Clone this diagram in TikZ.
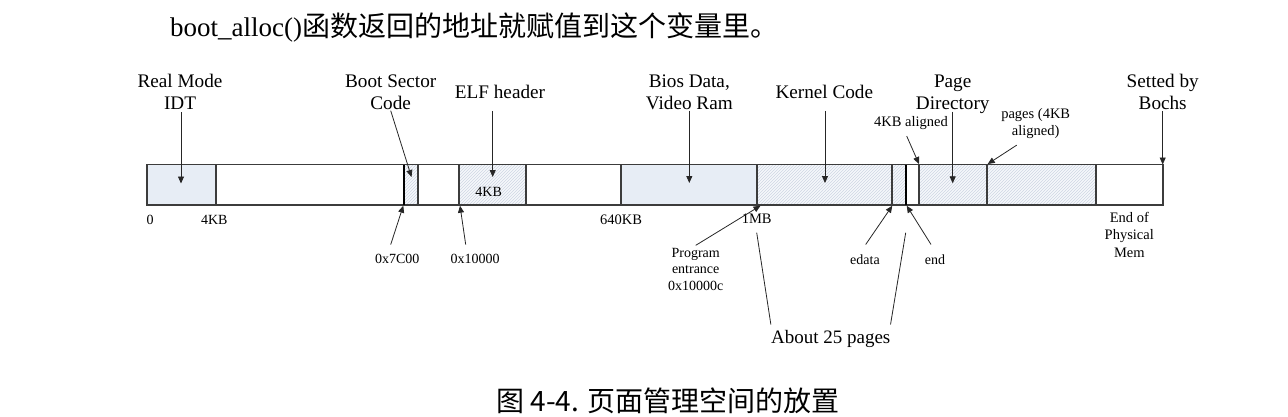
\documentclass[tikz,border=0pt]{standalone}
\usepackage{fontspec}
\setmainfont{Liberation Serif}
\newfontfamily\cjk{Noto Sans CJK SC}
\usetikzlibrary{arrows.meta,patterns}
\definecolor{dotfill}{RGB}{231,237,245}
\definecolor{hatchbg}{RGB}{246,248,251}
\definecolor{hatchline}{RGB}{206,214,227}
\definecolor{barline}{RGB}{60,60,60}
\begin{document}
\begin{tikzpicture}[x=1pt,y=-1pt,
  big/.style={font=\fontsize{19.2}{22}\selectfont, align=center, inner sep=0pt},
  small/.style={font=\fontsize{14}{16.7}\selectfont, align=center, inner sep=0pt},
  mid/.style={font=\fontsize{14.5}{17.5}\selectfont, align=center, inner sep=0pt},
  dotted region/.style={fill=dotfill},
  hatch/.style={preaction={fill=hatchbg}, pattern=north east lines, pattern color=hatchline},
  bar/.style={draw=barline, line width=1.2pt},
  strong/.style={draw=black, line width=1.5pt},
  arr/.style={draw=black!85, line width=0.8pt, -{Triangle[length=7pt,width=6pt]}},
  plain/.style={draw=black!85, line width=0.8pt}]
\useasboundingbox (0,0) rectangle (1288,416);

% header text and caption
\node[anchor=west, inner sep=0pt, font=\fontsize{27}{30}\selectfont] (head) at (170,27)
  {boot\_alloc()\cjk\fontsize{28}{30}\selectfont 函数返回的地址就赋值到这个变量里。};
\node[inner sep=0pt, font=\cjk\fontsize{28}{30}\selectfont] (cap) at (668,401)
  {图 4-4. 页面管理空间的放置};

% memory bar
\fill[dotted region] (147,164.5) rectangle (216,205);
\fill[hatch] (404,164.5) rectangle (418,205);
\fill[hatch] (459,164.5) rectangle (526,205);
\fill[dotted region] (621,164.5) rectangle (757,205);
\fill[hatch] (757,164.5) rectangle (906,205);
\fill[hatch] (919,164.5) rectangle (1096,205);
\draw[bar] (147,164.5) rectangle (1163,205);
\foreach \x in {216,418,459,526,621,757,892,919,987,1096}
  \draw[bar] (\x,164.5) -- (\x,205);
\draw[strong] (404,164.5) -- (404,205);
\draw[strong] (906,164.5) -- (906,205);

% tips
\coordinate (rmtip) at (181,183.5);
\coordinate (bstip) at (411.5,177);
\coordinate (elftip) at (492.7,177);
\coordinate (biostip) at (689.3,183);
\coordinate (kctip) at (825,183);
\coordinate (pdtip) at (952.7,183.3);
\coordinate (sbtip) at (1162.7,164.5);
\coordinate (x7tip) at (403.3,205.7);
\coordinate (x10tip) at (460,205.7);
\coordinate (progtip) at (760.5,205.7);
\coordinate (edtip) at (892.3,205.7);
\coordinate (endtip) at (906.7,205.7);
\coordinate (kbatip) at (919,164);
\coordinate (pgtip) at (987.7,164);
\coordinate (mbtop) at (756.7,232.7);
\coordinate (endtop) at (905.7,232.7);

% top labels
\node[big] (rm) at (180,92) {Real Mode\\IDT};
\node[big] (bs) at (390.7,92) {Boot Sector\\Code};
\node[big] (elf) at (500,92) {ELF header};
\node[big] (bios) at (689.3,92) {Bios Data,\\Video Ram};
\node[big] (kc) at (824.3,92.3) {Kernel Code};
\node[big] (pd) at (952.7,94) {Page\\Directory};
\node[big] (sb) at (1162.7,92) {Setted by\\Bochs};
\node[mid] (kba) at (911,123.3) {4KB aligned};
\node[mid] (pg) at (1035.7,123.6) {pages (4KB\\aligned)};

% bottom labels
\node[small] (z) at (150,220) {0};
\node[small] (k4) at (214.3,220) {4KB};
\node[small] (elfsz) at (488.7,192.3) {4KB};
\node[mid] (k640) at (621,219.3) {640KB};
\node[mid] (mb) at (756.7,219) {1MB};
\node[small] (x7) at (397.3,259.3) {0x7C00};
\node[small] (x10) at (475,259.3) {0x10000};
\node[small] (prog) at (695.7,269.3) {Program\\entrance\\0x10000c};
\node[small] (ed) at (865,259.3) {edata};
\node[small] (en) at (935,259.3) {end};
\node[mid] (eop) at (1129.3,234.7) {End of\\Physical\\Mem};
\node[font=\fontsize{19}{22}\selectfont, inner sep=0pt] (about) at (830.7,339.3) {About 25 pages};

% arrows
\draw[arr] ([shift={(1,2.5)}]rm.south) -- (rmtip);
\draw[arr] ([shift={(0,1)}]bs.south) -- (bstip);
\draw[arr] ([shift={(-7.3,12)}]elf.south) -- (elftip);
\draw[arr] ([shift={(0,1)}]bios.south) -- (biostip);
\draw[arr] ([shift={(0.7,11.5)}]kc.south) -- (kctip);
\draw[arr] ([shift={(0,-2)}]pd.south) -- (pdtip);
\draw[arr] ([shift={(0,1)}]sb.south) -- (sbtip);
\draw[arr] ([shift={(-4.3,6)}]kba.south) -- (kbatip);
\draw[arr] ([shift={(-19,6)}]pg.south) -- (pgtip);
\draw[arr] ([shift={(-6.6,-9.8)}]x7.north) -- (x7tip);
\draw[arr] ([shift={(-9.3,-9.8)}]x10.north) -- (x10tip);
\draw[arr] ([shift={(0,-2.4)}]prog.north) -- (progtip);
\draw[arr] ([shift={(0.7,-9.7)}]ed.north) -- (edtip);
\draw[arr] ([shift={(-4,-9.7)}]en.north) -- (endtip);
\draw[plain] (mbtop) -- ([shift={(0,-6)}]about.north west);
\draw[plain] (endtop) -- ([shift={(0,-6)}]about.north east);
\end{tikzpicture}
\end{document}
